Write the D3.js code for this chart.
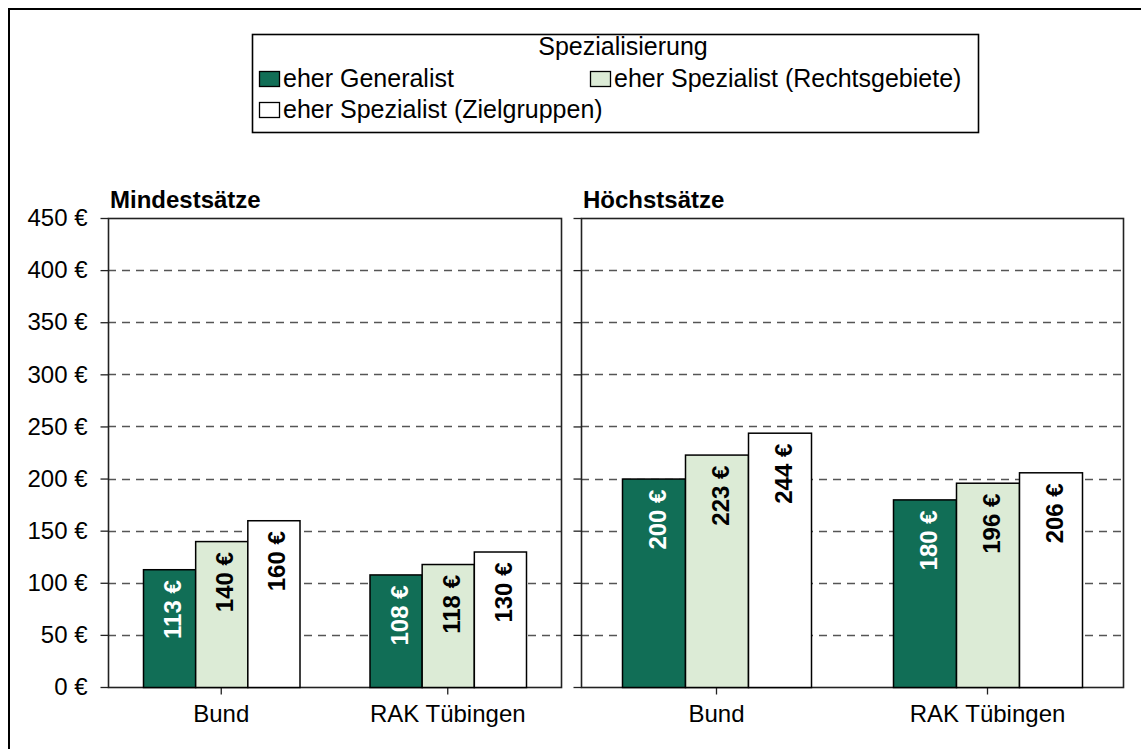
<!DOCTYPE html>
<html lang="de">
<head>
<meta charset="utf-8">
<title>Spezialisierung</title>
<script src="https://d3js.org/d3.v7.min.js"></script>
<style>
  body { margin: 0; background: #fff; }
  svg text { font-family: "Liberation Sans", Arial, sans-serif; }
</style>
</head>
<body>
<div id="chart"></div>
<script>
// data
var categories = ["Bund", "RAK Tübingen"];
var seriesNames = ["eher Generalist", "eher Spezialist (Rechtsgebiete)", "eher Spezialist (Zielgruppen)"];
var minValues = [[113, 140, 160], [108, 118, 130]];   // Mindestsätze
var maxValues = [[200, 223, 244], [180, 196, 206]];   // Höchstsätze
var yTicks = [0, 50, 100, 150, 200, 250, 300, 350, 400, 450];
var panelTitles = ["Mindestsätze", "Höchstsätze"];
var legendTitle = "Spezialisierung";

var colors = ["#116e56", "#dcebd6", "#ffffff"];
var labelColors = ["#ffffff", "#000000", "#000000"];

var W = 1141, H = 749;
var svg = d3.select("#chart").append("svg")
    .attr("width", W).attr("height", H);

// outer frame (only top and left edges are in view)
svg.append("rect")
    .attr("x", 9).attr("y", 9)
    .attr("width", W + 20).attr("height", H + 20)
    .attr("fill", "none").attr("stroke", "#000").attr("stroke-width", 2);

var y = d3.scaleLinear().domain([0, 450]).range([687, 218]);

var panels = [
  {x0: 108, x1: 561, values: minValues, title: panelTitles[0], labels: true, pad: 35},
  {x0: 581, x1: 1123, values: maxValues, title: panelTitles[1], labels: false, pad: 41}
];

panels.forEach(function(p) {
  var g = svg.append("g");
  var x = d3.scaleBand().domain(categories).range([p.x0, p.x1]);
  var inner = d3.scaleBand().domain(d3.range(seriesNames.length))
      .range([0, x.bandwidth() - 2 * p.pad]);

  // gridlines
  g.selectAll(".grid").data(yTicks.filter(function(t) { return t > 0 && t < 450; }))
    .enter().append("line")
      .attr("x1", p.x0).attr("x2", p.x1)
      .attr("y1", function(d) { return Math.round(y(d)) + 0.5; })
      .attr("y2", function(d) { return Math.round(y(d)) + 0.5; })
      .attr("stroke", "#555").attr("stroke-width", 1.3).attr("stroke-dasharray", "8,6");

  // plot frame
  g.append("rect")
    .attr("x", p.x0 + 0.5).attr("y", y(450) + 0.5)
    .attr("width", p.x1 - p.x0).attr("height", y(0) - y(450))
    .attr("fill", "none").attr("stroke", "#222").attr("stroke-width", 1.6);

  // y axis
  var yAxis = d3.axisLeft(y).tickValues(yTicks).tickSize(8).tickPadding(13)
      .tickFormat(function(d) { return p.labels ? d + " €" : ""; });
  var ya = g.append("g").attr("transform", "translate(" + (p.x0 + 0.5) + ",0)").call(yAxis);
  ya.select(".domain").remove();
  ya.selectAll("line").attr("stroke", "#222").attr("stroke-width", 1.3);
  ya.selectAll("text").attr("font-size", 24).attr("fill", "#000")
    .attr("font-family", "Liberation Sans, Arial, sans-serif");

  // x axis
  var xAxis = d3.axisBottom(x).tickSize(7).tickPadding(10);
  var xa = g.append("g").attr("transform", "translate(0," + (y(0) + 0.5) + ")").call(xAxis);
  xa.select(".domain").remove();
  xa.selectAll("line").attr("stroke", "#222").attr("stroke-width", 1.3);
  xa.selectAll("text").attr("font-size", 24).attr("fill", "#000")
    .attr("font-family", "Liberation Sans, Arial, sans-serif");

  // bars with rotated value labels
  categories.forEach(function(c, ci) {
    var gx = x(c) + p.pad;
    p.values[ci].forEach(function(v, si) {
      var bx = gx + inner(si), bw = inner.bandwidth();
      g.append("rect")
        .attr("x", bx + 0.5).attr("y", y(v) + 0.5)
        .attr("width", bw).attr("height", y(0) - y(v))
        .attr("fill", colors[si]).attr("stroke", "#000").attr("stroke-width", 1.5);
      g.append("text")
        .attr("transform", "translate(" + (bx + bw / 2 + 12) + "," + (y(v) + 11) + ") rotate(-90)")
        .attr("text-anchor", "end")
        .attr("font-size", 24).attr("font-weight", "bold")
        .attr("fill", labelColors[si])
        .text(v + " €");
    });
  });

  // panel title
  svg.append("text")
    .attr("x", p.x0 + 2).attr("y", 208)
    .attr("font-size", 24).attr("font-weight", "bold")
    .text(p.title);
});

// legend
var lg = svg.append("g");
lg.append("rect")
  .attr("x", 252.5).attr("y", 34.5).attr("width", 726).attr("height", 98)
  .attr("fill", "#fff").attr("stroke", "#000").attr("stroke-width", 1.6);
lg.append("text")
  .attr("x", 623).attr("y", 55).attr("text-anchor", "middle")
  .attr("font-size", 25).text(legendTitle);

var legendPos = [[259, 87], [590, 87], [259, 118]];
seriesNames.forEach(function(name, i) {
  var pos = legendPos[i];
  lg.append("rect")
    .attr("x", pos[0] + 0.5).attr("y", pos[1] - 15.5)
    .attr("width", 20).attr("height", 15)
    .attr("fill", colors[i]).attr("stroke", "#000").attr("stroke-width", 1.3);
  lg.append("text")
    .attr("x", pos[0] + 24).attr("y", pos[1])
    .attr("font-size", 25).text(name);
});
</script>
</body>
</html>
